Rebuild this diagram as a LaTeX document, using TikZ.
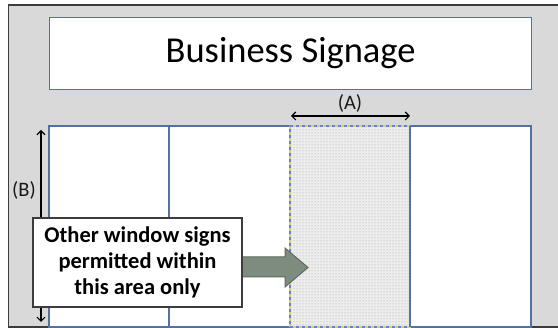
\documentclass[tikz,border=0pt]{standalone}
\usepackage{fontspec}
\setmainfont{Carlito}
\usetikzlibrary{arrows.meta,patterns}
\definecolor{bgray}{HTML}{D9D9D9}
\definecolor{frameblue}{HTML}{52739F}
\definecolor{framedark}{HTML}{3C3C3C}
\definecolor{arrowfill}{HTML}{7D8C7F}
\definecolor{arrowline}{HTML}{5E6B60}
\definecolor{zigblue}{HTML}{6A7FD8}
\definecolor{zigyellow}{HTML}{D4D36A}
\tikzset{
  winbox/.style={draw=frameblue, line width=1.3pt, fill=white},
  dimarrow/.style={{Straight Barb[length=4pt,width=8pt]}-{Straight Barb[length=4pt,width=8pt]}, line width=1.1pt, black},
  dimlabel/.style={font=\fontsize{20.5}{24}\selectfont, text=black!90, inner sep=0pt},
  callout/.style={draw=framedark, line width=1.3pt, fill=white, minimum width=209pt, minimum height=89pt, align=center, inner sep=0pt, font=\fontsize{22.5}{26}\selectfont\bfseries},
}
\begin{document}
\begin{tikzpicture}[x=1pt,y=1pt]
\useasboundingbox (0,0) rectangle (558,328);
\clip (0,0) rectangle (558,328);
% background frame
\fill[bgray] (8.5,0.8) rectangle (570,323);
\draw[framedark, line width=1.5pt] (8.5,0.8) rectangle (570,323);
% signage
\node[winbox, minimum width=482pt, minimum height=72pt, inner sep=0pt, anchor=south west, font=\fontsize{36.5}{40}\selectfont] (sign) at (49,238) {Business Signage};
% windows
\draw[winbox] (49,1) rectangle (531,202);
\coordinate (w1t) at (169,202); \coordinate (w1b) at (169,1);
\draw[frameblue, line width=1.3pt] (w1t) -- (w1b);
% shaded permitted area
\fill[gray!14] (290,1) rectangle (410,202);
\fill[pattern=dots, pattern color=gray!75] (290,1) rectangle (410,202);
\draw[zigyellow, line width=2.4pt, dash pattern=on 3pt off 3pt] (290,1) -- (290,202) -- (410,202) -- (410,1) -- cycle;
\draw[zigblue, line width=2.4pt, dash pattern=on 3pt off 3pt, dash phase=3pt] (290,1) -- (290,202) -- (410,202) -- (410,1) -- cycle;
\draw[frameblue, line width=1.3pt] (410,202) -- (410,1);
% dimension A
\coordinate (a1) at (291,212); \coordinate (a2) at (410,212);
\draw[dimarrow] (a1) -- (a2);
\node[dimlabel] (la) at (350,225) {(A)};
% dimension B
\coordinate (b1) at (41,198); \coordinate (b2) at (41,6);
\draw[dimarrow] (b1) -- (b2);
\node[dimlabel] (lb) at (24,138) {(B)};
% block arrow
\coordinate (p1) at (242,51); \coordinate (p2) at (285,51); \coordinate (p3) at (285,41);
\coordinate (tip) at (308,60.5);
\coordinate (p5) at (285,80); \coordinate (p6) at (285,71); \coordinate (p7) at (242,71);
\draw[fill=arrowfill, draw=arrowline, line width=1pt, line join=miter] (p1) -- (p2) -- (p3) -- (tip) -- (p5) -- (p6) -- (p7) -- cycle;
% callout
\node[callout] (call) at (137.5,65.5) {Other window signs\\permitted within\\this area only};
\end{tikzpicture}
\end{document}
